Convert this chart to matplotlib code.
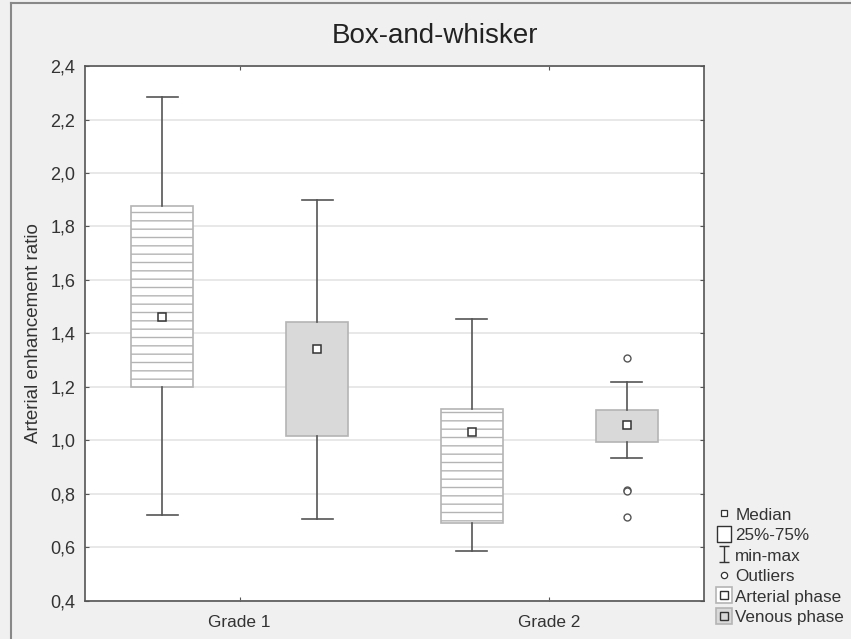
import numpy as np
import matplotlib
matplotlib.use("Agg")
import matplotlib.pyplot as plt
from matplotlib.lines import Line2D
from matplotlib.path import Path
from matplotlib.legend_handler import HandlerTuple
from matplotlib.ticker import FuncFormatter

plt.rcParams['font.family'] = ['Liberation Sans', 'DejaVu Sans']
plt.rcParams['hatch.color'] = '#c4c4c4'
plt.rcParams['hatch.linewidth'] = 1.0

# data
grades = ["Grade 1", "Grade 2"]
phases = ["Arterial phase", "Venous phase"]
q1 = [[1.20, 1.017], [0.693, 0.995]]
med = [[1.463, 1.341], [1.031, 1.058]]
q3 = [[1.877, 1.443], [1.118, 1.113]]
wlo = [[0.72, 0.705], [0.588, 0.936]]
whi = [[2.283, 1.90], [1.453, 1.218]]
fliers = [[[], []], [[], [1.31, 0.815, 0.81, 0.715]]]

dark = '#555555'
edge = '#b4b4b4'

fig = plt.figure(figsize=(8.51, 6.39), dpi=100, facecolor='#f0f0f0')
ax = fig.add_axes([0.0999, 0.0595, 0.7273, 0.8372])
ax.set_facecolor('white')

offsets = [-0.25, 0.25]
for g in range(len(grades)):
    for p in range(len(phases)):
        pos = g + 0.5 + offsets[p]
        st = dict(q1=q1[g][p], med=med[g][p], q3=q3[g][p],
                  whislo=wlo[g][p], whishi=whi[g][p], fliers=fliers[g][p])
        art = ax.bxp([st], positions=[pos], widths=0.2, capwidths=0.1,
                     patch_artist=True, showfliers=True,
                     boxprops=dict(edgecolor=edge, linewidth=1.2),
                     whiskerprops=dict(color=dark, linewidth=1.2),
                     capprops=dict(color=dark, linewidth=1.2),
                     medianprops=dict(linewidth=0),
                     flierprops=dict(marker='o', markersize=5, markerfacecolor='white',
                                     markeredgecolor=dark, markeredgewidth=1.0))
        box = art['boxes'][0]
        if p == 0:
            box.set_facecolor('white')
            box.set_hatch('--')
        else:
            box.set_facecolor('#d9d9d9')
        ax.plot([pos], [med[g][p]], marker='s', markersize=6, markerfacecolor='white',
                markeredgecolor='#333333', markeredgewidth=1.1, zorder=5)

ax.set_xlim(0, 2)
ax.set_ylim(0.4, 2.4)
ax.set_yticks(np.arange(0.4, 2.41, 0.2))
ax.yaxis.set_major_formatter(FuncFormatter(lambda v, _: f"{v:.1f}".replace('.', ',')))
ax.set_xticks([0.5, 1.5])
ax.set_xticklabels(grades)
ax.grid(axis='y', color='#e4e4e4', linewidth=1.2)
ax.set_axisbelow(True)
ax.tick_params(axis='y', direction='in', length=3, color=dark, labelsize=13,
               labelcolor='#333333', right=True, pad=7)
ax.tick_params(axis='x', direction='in', length=3, color=dark, labelsize=12.4,
               labelcolor='#333333', top=True, pad=10)
for s in ax.spines.values():
    s.set_color(dark)
    s.set_linewidth(1.2)

ax.set_ylabel("Arterial enhancement ratio", fontsize=13.5, color='#333333', labelpad=6)
fig.text(0.511, 0.944, "Box-and-whisker", ha='center', va='center', fontsize=20, color='#222222')

# outer frame lines of the original screenshot
fig.add_artist(Line2D([0.013, 1.0], [0.996, 0.996], color='#888888', linewidth=1.5))
fig.add_artist(Line2D([0.013, 0.013], [0.0, 0.996], color='#888888', linewidth=1.5))

ibeam = Path([(-0.6, 1), (0.6, 1), (0, 1), (0, -1), (-0.6, -1), (0.6, -1)],
             [Path.MOVETO, Path.LINETO, Path.MOVETO, Path.LINETO, Path.MOVETO, Path.LINETO])
tall_rect = Path([(-0.4, -0.5), (0.4, -0.5), (0.4, 0.5), (-0.4, 0.5), (-0.4, -0.5)],
                 [Path.MOVETO, Path.LINETO, Path.LINETO, Path.LINETO, Path.CLOSEPOLY])
h_med = Line2D([], [], marker='s', linestyle='none', markersize=4.5,
               markerfacecolor='white', markeredgecolor='#333333', markeredgewidth=0.9)
h_box = Line2D([], [], marker=tall_rect, linestyle='none', markersize=12,
               markerfacecolor='white', markeredgecolor='#333333', markeredgewidth=1.0)
h_mm = Line2D([], [], marker=ibeam, linestyle='none', markersize=12,
              markerfacecolor='none', markeredgecolor='#333333', markeredgewidth=1.0)
h_out = Line2D([], [], marker='o', linestyle='none', markersize=4.5,
               markerfacecolor='white', markeredgecolor='#333333', markeredgewidth=0.9)
h_art = (Line2D([], [], marker='s', linestyle='none', markersize=12,
                markerfacecolor='white', markeredgecolor=edge, markeredgewidth=1.2),
         Line2D([], [], marker='s', linestyle='none', markersize=6, markerfacecolor='white',
                markeredgecolor='#333333', markeredgewidth=1.0))
h_ven = (Line2D([], [], marker='s', linestyle='none', markersize=12,
                markerfacecolor='#d9d9d9', markeredgecolor=edge, markeredgewidth=1.2),
         Line2D([], [], marker='s', linestyle='none', markersize=6, markerfacecolor='#d9d9d9',
                markeredgecolor='#333333', markeredgewidth=1.0))
fig.legend([h_med, h_box, h_mm, h_out, h_art, h_ven],
           ["Median", "25%-75%", "min-max", "Outliers"] + phases,
           loc='lower left', bbox_to_anchor=(0.825, 0.0), frameon=False,
           fontsize=12.3, handlelength=1.0, handleheight=0.95, handletextpad=0.15,
           labelspacing=0.25, borderpad=0.3, labelcolor='#333333',
           handler_map={tuple: HandlerTuple(ndivide=1)})

fig.savefig("out.png", dpi=100, facecolor=fig.get_facecolor())
